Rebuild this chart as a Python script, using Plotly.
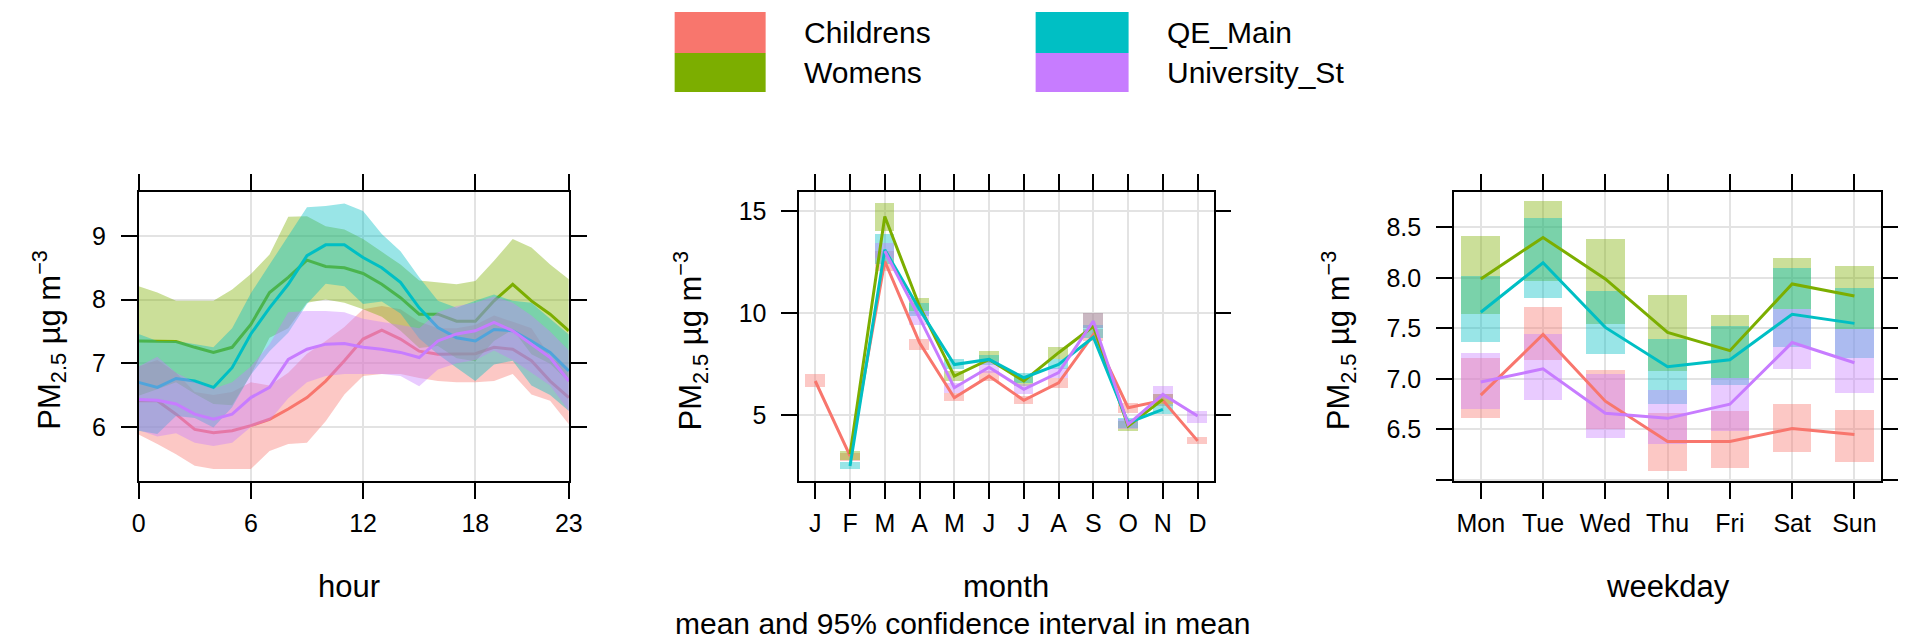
import plotly.graph_objects as go

# colours (openair default hue palette)
sites = ["Childrens", "Womens", "QE_Main", "University_St"]
colours = ["#F8766D", "#7CAE00", "#00BFC4", "#C77CFF"]
fills = ["rgba(248,118,109,0.4)", "rgba(124,174,0,0.4)",
         "rgba(0,191,196,0.4)", "rgba(199,124,255,0.4)"]

# ---- hour panel
hours = list(range(24))

hour_mean = {
    "Childrens": [6.41, 6.41, 6.20, 5.96, 5.91, 5.94, 6.02, 6.12, 6.28, 6.46, 6.72, 7.04,
                  7.38, 7.52, 7.38, 7.19, 7.14, 7.14, 7.15, 7.25, 7.22, 7.04, 6.72, 6.46],
    "Womens": [7.35, 7.35, 7.34, 7.25, 7.17, 7.25, 7.61, 8.11, 8.35, 8.62, 8.52, 8.50,
               8.41, 8.24, 8.03, 7.77, 7.77, 7.66, 7.66, 7.98, 8.24, 7.98, 7.77, 7.51],
    "QE_Main": [6.70, 6.62, 6.76, 6.72, 6.62, 6.93, 7.46, 7.87, 8.24, 8.69, 8.86, 8.86,
                8.66, 8.50, 8.27, 7.87, 7.56, 7.40, 7.35, 7.53, 7.51, 7.35, 7.17, 6.88],
    "University_St": [6.43, 6.42, 6.36, 6.20, 6.12, 6.20, 6.46, 6.62, 7.06, 7.22, 7.30, 7.31,
                      7.25, 7.22, 7.17, 7.09, 7.35, 7.46, 7.51, 7.64, 7.51, 7.30, 7.09, 6.72],
}
hour_upper = {
    "Childrens": [6.95, 7.05, 6.85, 6.55, 6.50, 6.55, 6.70, 6.65, 6.85, 7.15, 7.35, 7.57,
                  7.85, 7.90, 7.85, 7.65, 7.55, 7.55, 7.60, 7.75, 7.65, 7.55, 7.10, 6.90],
    "Womens": [8.21, 8.11, 7.98, 7.98, 7.98, 8.16, 8.40, 8.71, 9.30, 9.31, 9.15, 9.10,
               8.95, 8.75, 8.55, 8.30, 8.27, 8.24, 8.29, 8.61, 8.95, 8.82, 8.55, 8.32],
    "QE_Main": [7.46, 7.35, 7.35, 7.30, 7.25, 7.55, 8.10, 8.55, 9.00, 9.45, 9.47, 9.51,
                9.39, 9.03, 8.76, 8.35, 7.98, 7.87, 7.98, 8.08, 7.98, 7.95, 7.70, 7.45],
    "University_St": [6.95, 7.10, 6.85, 6.70, 6.60, 6.70, 6.95, 7.30, 7.80, 7.82, 7.82, 7.80,
                      7.70, 7.65, 7.60, 7.55, 7.80, 7.90, 7.95, 8.05, 7.95, 7.75, 7.50, 7.20],
}
hour_lower = {
    "Childrens": [5.88, 5.73, 5.57, 5.39, 5.34, 5.34, 5.34, 5.62, 5.73, 5.75, 6.09, 6.51,
                  6.80, 6.83, 6.83, 6.77, 6.72, 6.70, 6.70, 6.72, 6.83, 6.51, 6.41, 6.04],
    "Womens": [6.49, 6.59, 6.70, 6.52, 6.36, 6.34, 6.82, 7.40, 7.55, 7.95, 8.00, 7.95,
               7.85, 7.73, 7.51, 7.24, 7.27, 7.08, 7.03, 7.35, 7.53, 7.14, 6.99, 6.70],
    "QE_Main": [5.94, 5.89, 6.17, 6.14, 5.99, 6.31, 6.82, 7.19, 7.48, 7.93, 8.25, 8.21,
                7.93, 7.97, 7.78, 7.39, 7.14, 6.93, 6.72, 6.98, 7.04, 6.65, 6.50, 6.25],
    "University_St": [5.95, 5.85, 5.90, 5.75, 5.70, 5.75, 6.00, 6.10, 6.45, 6.70, 6.80, 6.83,
                      6.83, 6.83, 6.80, 6.64, 6.90, 7.00, 7.05, 7.20, 7.05, 6.85, 6.65, 6.25],
}

# ---- month panel
months = list(range(1, 13))
month_labels = ["J", "F", "M", "A", "M", "J", "J", "A", "S", "O", "N", "D"]
N = None
month_mean = {
    "Childrens": [6.67, 2.99, 12.55, 8.55, 5.85, 6.91, 5.72, 6.58, 8.95, 5.36, 5.72, 3.73],
    "Womens": [N, 3.07, 14.75, 10.34, 6.91, 7.73, 6.67, 8.06, 9.36, 4.46, 5.77, N],
    "QE_Main": [N, 2.50, 13.12, 10.18, 7.48, 7.73, 6.83, 7.48, 8.82, 4.62, 5.28, N],
    "University_St": [N, N, 13.05, 9.77, 6.34, 7.35, 6.26, 7.08, 9.61, 4.54, 6.01, 4.95],
}
month_upper = {
    "Childrens": [7.00, 3.15, 13.05, 8.71, 6.10, 7.16, 5.93, 6.83, 9.20, 5.60, 6.01, 3.92],
    "Womens": [N, 3.24, 15.41, 10.75, 7.16, 8.14, 6.91, 8.33, 10.02, 4.71, 6.01, N],
    "QE_Main": [N, 2.71, 13.90, 10.50, 7.73, 7.97, 7.08, 7.73, 9.44, 4.87, 5.52, N],
    "University_St": [N, N, 13.45, 10.10, 6.58, 7.65, 6.50, 7.32, 10.02, 4.79, 6.42, 5.20],
}
month_lower = {
    "Childrens": [6.37, 2.75, 12.05, 8.17, 5.69, 6.67, 5.52, 6.31, 8.63, 5.11, 5.44, 3.56],
    "Womens": [N, 2.78, 14.02, 10.10, 6.67, 7.57, 6.42, 7.73, 9.28, 4.22, 5.52, N],
    "QE_Main": [N, 2.34, 12.40, 9.85, 7.24, 7.48, 6.58, 7.24, 8.79, 4.38, 5.03, N],
    "University_St": [N, N, 12.71, 9.44, 6.10, 7.08, 6.01, 6.83, 9.28, 4.30, 5.77, 4.62],
}

# ---- weekday panel
days = list(range(1, 8))
day_labels = ["Mon", "Tue", "Wed", "Thu", "Fri", "Sat", "Sun"]
day_mean = {
    "Childrens": [6.84, 7.44, 6.78, 6.38, 6.38, 6.51, 6.45],
    "Womens": [7.99, 8.40, 7.99, 7.46, 7.28, 7.94, 7.82],
    "QE_Main": [7.66, 8.15, 7.51, 7.12, 7.19, 7.64, 7.55],
    "University_St": [6.97, 7.10, 6.66, 6.61, 6.75, 7.36, 7.16],
}
day_upper = {
    "Childrens": [7.21, 7.71, 7.09, 6.66, 6.68, 6.75, 6.69],
    "Womens": [8.41, 8.76, 8.38, 7.83, 7.63, 8.20, 8.12],
    "QE_Main": [8.02, 8.59, 7.87, 7.40, 7.52, 8.10, 7.90],
    "University_St": [7.26, 7.44, 7.05, 6.89, 7.01, 7.69, 7.49],
}
day_lower = {
    "Childrens": [6.61, 7.19, 6.50, 6.09, 6.12, 6.28, 6.18],
    "Womens": [7.64, 7.97, 7.54, 7.08, 7.01, 7.69, 7.49],
    "QE_Main": [7.37, 7.80, 7.25, 6.75, 6.94, 7.32, 7.21],
    "University_St": [6.70, 6.79, 6.42, 6.36, 6.48, 7.10, 6.86],
}

W, H = 1906, 638
FONT = "Liberation Sans"

fig = go.Figure()

# hour: band polygon then line, per site
for s, col, fc in zip(sites, colours, fills):
    fig.add_trace(go.Scatter(
        x=hours + hours[::-1],
        y=hour_upper[s] + hour_lower[s][::-1],
        fill="toself", fillcolor=fc, line=dict(width=0),
        mode="lines", hoverinfo="skip", showlegend=False,
        xaxis="x", yaxis="y",
    ))
    fig.add_trace(go.Scatter(
        x=hours, y=hour_mean[s], mode="lines",
        line=dict(color=col, width=3), showlegend=False,
        xaxis="x", yaxis="y",
    ))


def spans(up, lo):
    return [None if u is None else u - l for u, l in zip(up, lo)]


# month and weekday: boxes as bars with a base, then lines
for s, col, fc in zip(sites, colours, fills):
    fig.add_trace(go.Bar(
        x=months, y=spans(month_upper[s], month_lower[s]), base=month_lower[s],
        width=0.57, marker=dict(color=fc, line=dict(width=0)),
        showlegend=False, xaxis="x2", yaxis="y2",
    ))
    fig.add_trace(go.Bar(
        x=days, y=spans(day_upper[s], day_lower[s]), base=day_lower[s],
        width=0.62, marker=dict(color=fc, line=dict(width=0)),
        showlegend=False, xaxis="x3", yaxis="y3",
    ))

for s, col in zip(sites, colours):
    fig.add_trace(go.Scatter(
        x=months, y=month_mean[s], mode="lines",
        line=dict(color=col, width=3), showlegend=False,
        xaxis="x2", yaxis="y2",
    ))
    fig.add_trace(go.Scatter(
        x=days, y=day_mean[s], mode="lines",
        line=dict(color=col, width=3), showlegend=False,
        xaxis="x3", yaxis="y3",
    ))

axis_style = dict(
    showline=True, linecolor="black", linewidth=1.6, mirror="ticks",
    ticks="outside", ticklen=16, tickwidth=1.6, tickcolor="black",
    showgrid=True, gridcolor="#e3e3e3", gridwidth=1.5, zeroline=False,
    tickfont=dict(family=FONT, size=25, color="black"),
)

ybot = (H - 473) / H
ytop = (H - 184) / H

fig.update_layout(
    width=W, height=H,
    margin=dict(l=0, r=0, t=0, b=0),
    paper_bgcolor="white", plot_bgcolor="white",
    barmode="overlay", bargap=0,
    font=dict(family=FONT, size=31, color="black"),
    xaxis=dict(axis_style, domain=[125 / W, 560 / W], range=[0, 23],
               tickvals=[0, 6, 12, 18, 23], anchor="y", ticklabelstandoff=3),
    yaxis=dict(axis_style, domain=[ybot, ytop], range=[5.15, 9.69],
               tickvals=[6, 7, 8, 9], anchor="x", ticklabelstandoff=10),
    xaxis2=dict(axis_style, domain=[793 / W, 1212 / W], range=[0.54, 12.46],
                tickvals=months, ticktext=month_labels, anchor="y2",
                ticklabelstandoff=3),
    yaxis2=dict(axis_style, domain=[ybot, ytop], range=[1.76, 15.95],
                tickvals=[5, 10, 15], anchor="x2", ticklabelstandoff=10),
    xaxis3=dict(axis_style, domain=[1455 / W, 1887 / W], range=[0.57, 7.43],
                tickvals=days, ticktext=day_labels, anchor="y3",
                ticklabelstandoff=3),
    yaxis3=dict(axis_style, domain=[ybot, ytop], range=[5.99, 8.85],
                tickvals=[6.0, 6.5, 7.0, 7.5, 8.0, 8.5],
                ticktext=["", "6.5", "7.0", "7.5", "8.0", "8.5"],
                anchor="x3", ticklabelstandoff=10),
)

# axis titles
ytitle = "PM<sub>2.5</sub> µg m<sup>−3</sup>"
for xp in [34, 683, 1338]:
    fig.add_annotation(x=xp / W, y=(H - 332) / H, xref="paper", yref="paper",
                       text=ytitle, textangle=-90, showarrow=False,
                       font=dict(size=31), xanchor="center", yanchor="middle")
for xp, t in [(338, "hour"), (1002, "month"), (1671, "weekday")]:
    fig.add_annotation(x=xp / W, y=(H - 578) / H, xref="paper", yref="paper",
                       text=t, showarrow=False, font=dict(size=31),
                       xanchor="center", yanchor="middle")
fig.add_annotation(x=958 / W, y=(H - 615) / H, xref="paper", yref="paper",
                   text="mean and 95% confidence interval in mean",
                   showarrow=False, font=dict(size=30),
                   xanchor="center", yanchor="middle")

# key at the top
key_pos = [(667, 759, 4, 45, 796), (667, 759, 45, 84, 796),
           (1032, 1126, 4, 45, 1163), (1032, 1126, 45, 84, 1163)]
for s, col, (x0, x1, y0, y1, tx) in zip(sites, colours, key_pos):
    fig.add_shape(type="rect", xref="paper", yref="paper",
                  x0=x0 / W, x1=x1 / W, y0=(H - y1) / H, y1=(H - y0) / H,
                  fillcolor=col, line=dict(width=0))
    fig.add_annotation(x=tx / W, y=(H - (y0 + y1) / 2) / H, xref="paper",
                       yref="paper", text=s, showarrow=False,
                       font=dict(size=30), xanchor="left", yanchor="middle")

fig.write_html("out.html")
